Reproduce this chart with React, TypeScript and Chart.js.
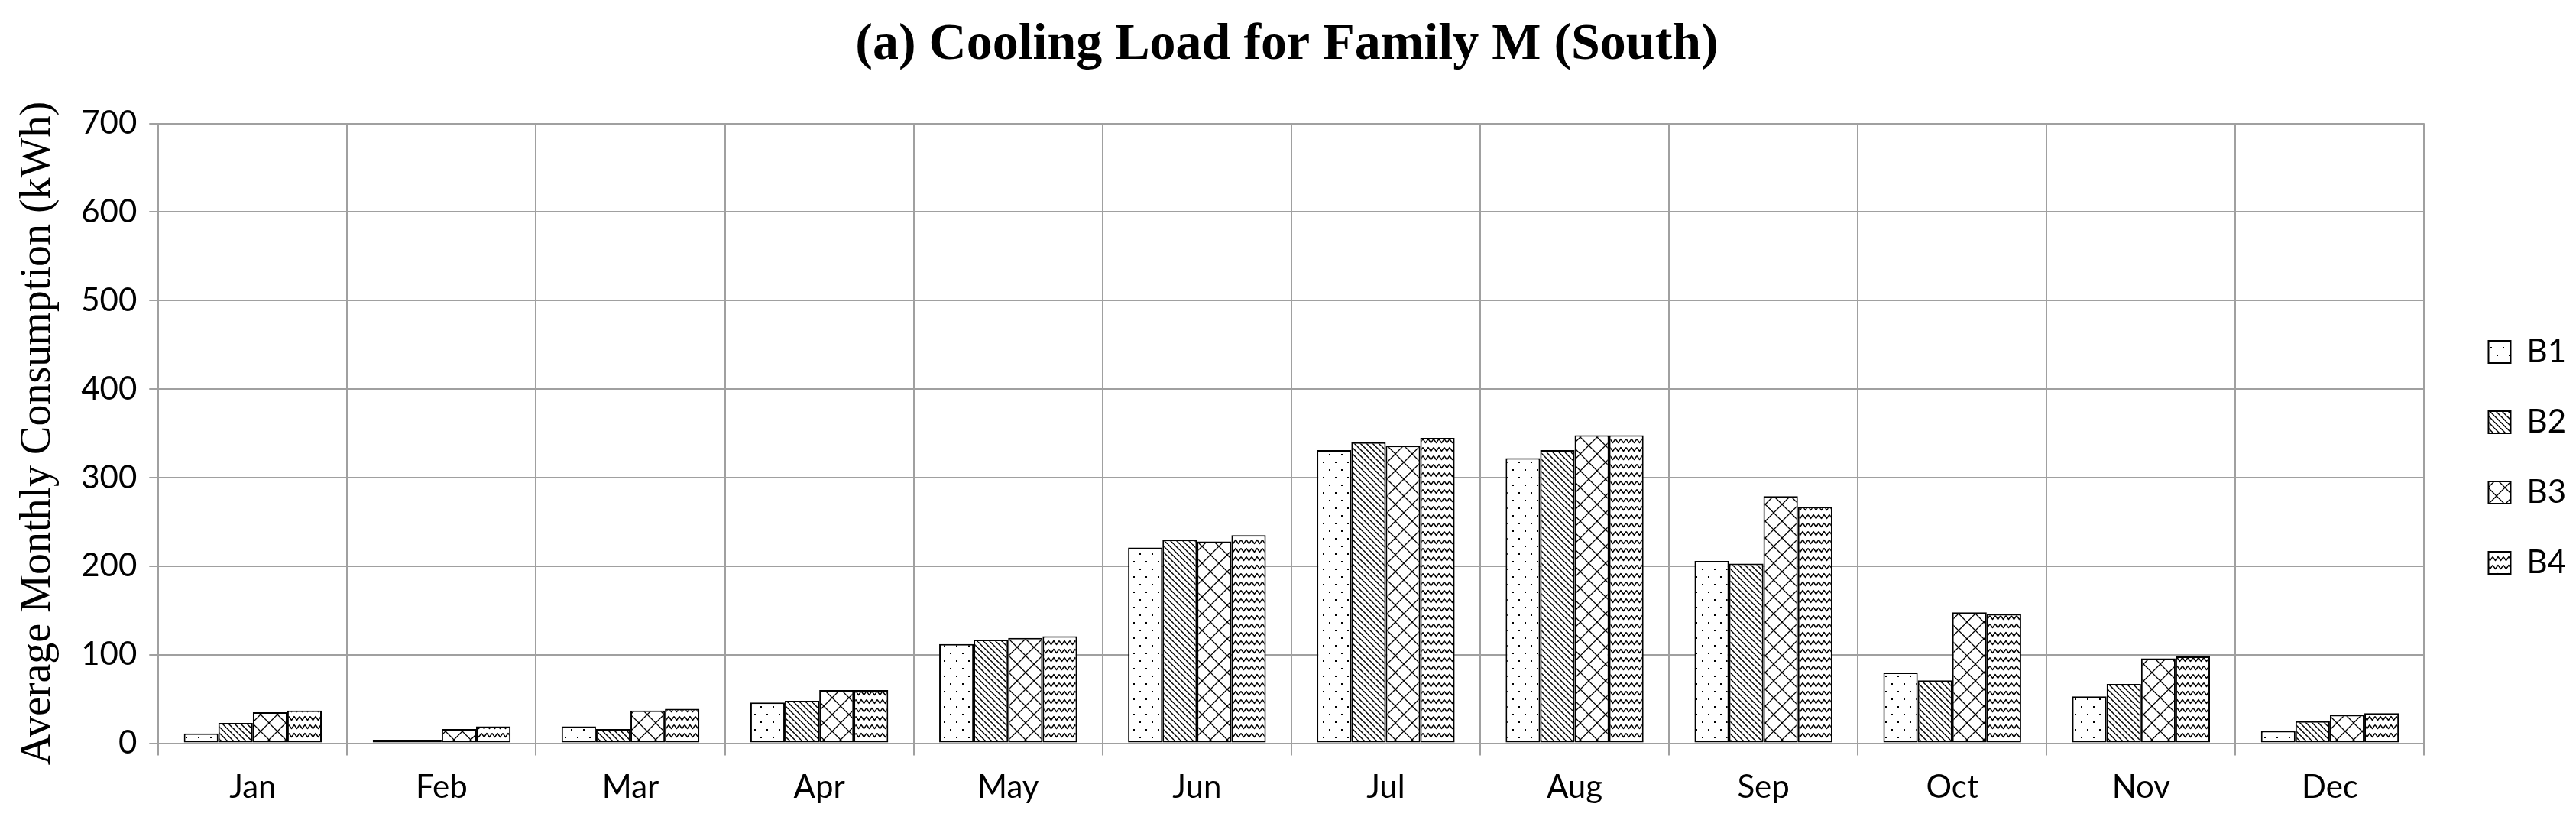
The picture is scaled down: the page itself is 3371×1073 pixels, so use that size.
import React, { useEffect, useRef } from 'react';
import { Chart, registerables } from 'chart.js';

Chart.register(...registerables);

const months = ['Jan', 'Feb', 'Mar', 'Apr', 'May', 'Jun', 'Jul', 'Aug', 'Sep', 'Oct', 'Nov', 'Dec'];
const seriesNames = ['B1', 'B2', 'B3', 'B4'];
const b1Values = [11, 4, 19, 46, 112, 221, 331, 322, 206, 80, 53, 14];
const b2Values = [23, 4, 16, 48, 117, 230, 340, 331, 203, 71, 67, 25];
const b3Values = [35, 16, 37, 60, 119, 228, 336, 348, 279, 148, 96, 32];
const b4Values = [37, 19, 39, 60, 121, 235, 345, 348, 267, 146, 98, 34];
const yMin = 0;
const yMax = 700;
const yStep = 100;

const chartTitle = '(a) Cooling Load for Family M (South)';
const yTitle = 'Average Monthly Consumption (kWh)';

const LEGEND_GAP = 34;
const LEGEND_DY = 62;

function makePattern(kind: string): CanvasPattern | string {
  const c = document.createElement('canvas');
  let w = 16, h = 20;
  if (kind === 'lines') { w = 8; h = 8; }
  if (kind === 'diamond') { w = 22; h = 22; }
  if (kind === 'wave') { w = 14; h = 11; }
  c.width = w; c.height = h;
  const ctx = c.getContext('2d');
  if (!ctx) return '#fff';
  ctx.fillStyle = '#ffffff';
  ctx.fillRect(0, 0, w, h);
  ctx.strokeStyle = '#000';
  ctx.fillStyle = '#000';
  if (kind === 'dots') {
    ctx.fillRect(3, 4, 2, 2);
    ctx.fillRect(11, 14, 2, 2);
  } else if (kind === 'lines') {
    ctx.lineWidth = 1.5;
    for (const k of [-w, 0, w]) {
      ctx.beginPath();
      ctx.moveTo(k, 0);
      ctx.lineTo(k + w, h);
      ctx.stroke();
    }
  } else if (kind === 'diamond') {
    ctx.lineWidth = 1.3;
    for (const k of [-w, 0, w]) {
      ctx.beginPath();
      ctx.moveTo(k, 0);
      ctx.lineTo(k + w, h);
      ctx.moveTo(k + w, 0);
      ctx.lineTo(k, h);
      ctx.stroke();
    }
  } else if (kind === 'wave') {
    ctx.lineWidth = 1.4;
    ctx.lineJoin = 'round';
    ctx.beginPath();
    ctx.moveTo(0, 2.5);
    ctx.lineTo(3.5, 7.5);
    ctx.lineTo(7, 2.5);
    ctx.lineTo(10.5, 7.5);
    ctx.lineTo(14, 2.5);
    ctx.stroke();
  }
  return ctx.createPattern(c, 'repeat') || '#fff';
}

const legendNudge = {
  id: 'legendNudge',
  beforeLayout(chart: any) {
    const lg = chart.legend;
    if (lg && !lg.__nudged) {
      const orig = lg.fit;
      lg.fit = function () {
        orig.call(this);
        this.width += LEGEND_GAP;
      };
      lg.__nudged = true;
    }
  },
  afterLayout(chart: any) {
    const lg = chart.legend;
    if (lg) {
      lg.left += LEGEND_GAP;
      lg.top += LEGEND_DY;
      lg.bottom += LEGEND_DY;
    }
  },
};

export default function App() {
  const canvasRef = useRef<HTMLCanvasElement | null>(null);

  useEffect(() => {
    document.body.style.margin = '0';
    const canvas = canvasRef.current;
    if (!canvas) return;
    const patterns = [makePattern('dots'), makePattern('lines'), makePattern('diamond'), makePattern('wave')];
    const values = [b1Values, b2Values, b3Values, b4Values];
    const sans = 'Lato';
    const grid = '#a0a0a0';

    const chart = new Chart(canvas, {
      type: 'bar',
      data: {
        labels: months,
        datasets: seriesNames.map((name, i) => ({
          label: name,
          data: values[i],
          backgroundColor: patterns[i] as any,
          borderColor: '#000',
          borderWidth: 2,
          borderSkipped: false,
          categoryPercentage: 0.73,
          barPercentage: 1.0,
        })),
      },
      options: {
        animation: false,
        responsive: false,
        devicePixelRatio: 1,
        layout: { padding: { left: 0, right: 3, top: 0, bottom: 0 } },
        plugins: {
          title: {
            display: true,
            text: chartTitle,
            color: '#000',
            font: { family: 'Liberation Serif', size: 68, weight: 'bold' },
            padding: { top: 19, bottom: 61 },
          },
          legend: {
            position: 'right',
            labels: {
              boxWidth: 29,
              boxHeight: 29,
              padding: 50,
              color: '#000',
              font: { family: sans, size: 42 },
            },
          },
          tooltip: { enabled: false },
        },
        scales: {
          x: {
            grid: { offset: true, color: grid, lineWidth: 2, tickLength: 16, drawTicks: true },
            border: { color: grid, width: 2 },
            ticks: { color: '#000', font: { family: sans, size: 42 }, padding: 17 },
          },
          y: {
            min: yMin,
            max: yMax,
            ticks: { stepSize: yStep, color: '#000', font: { family: sans, size: 42 }, padding: 16 },
            grid: { color: grid, lineWidth: 2, tickLength: 12 },
            border: { color: grid, width: 2 },
            title: {
              display: true,
              text: yTitle,
              color: '#000',
              font: { family: 'Liberation Serif', size: 56 },
              padding: { top: 17, bottom: 6 },
            },
          },
        },
      },
      plugins: [legendNudge],
    });
    return () => chart.destroy();
  }, []);

  return (
    <div style={{ width: 3371, height: 1073, background: '#fff' }}>
      <canvas ref={canvasRef} width={3371} height={1073} style={{ display: 'block' }} />
    </div>
  );
}
